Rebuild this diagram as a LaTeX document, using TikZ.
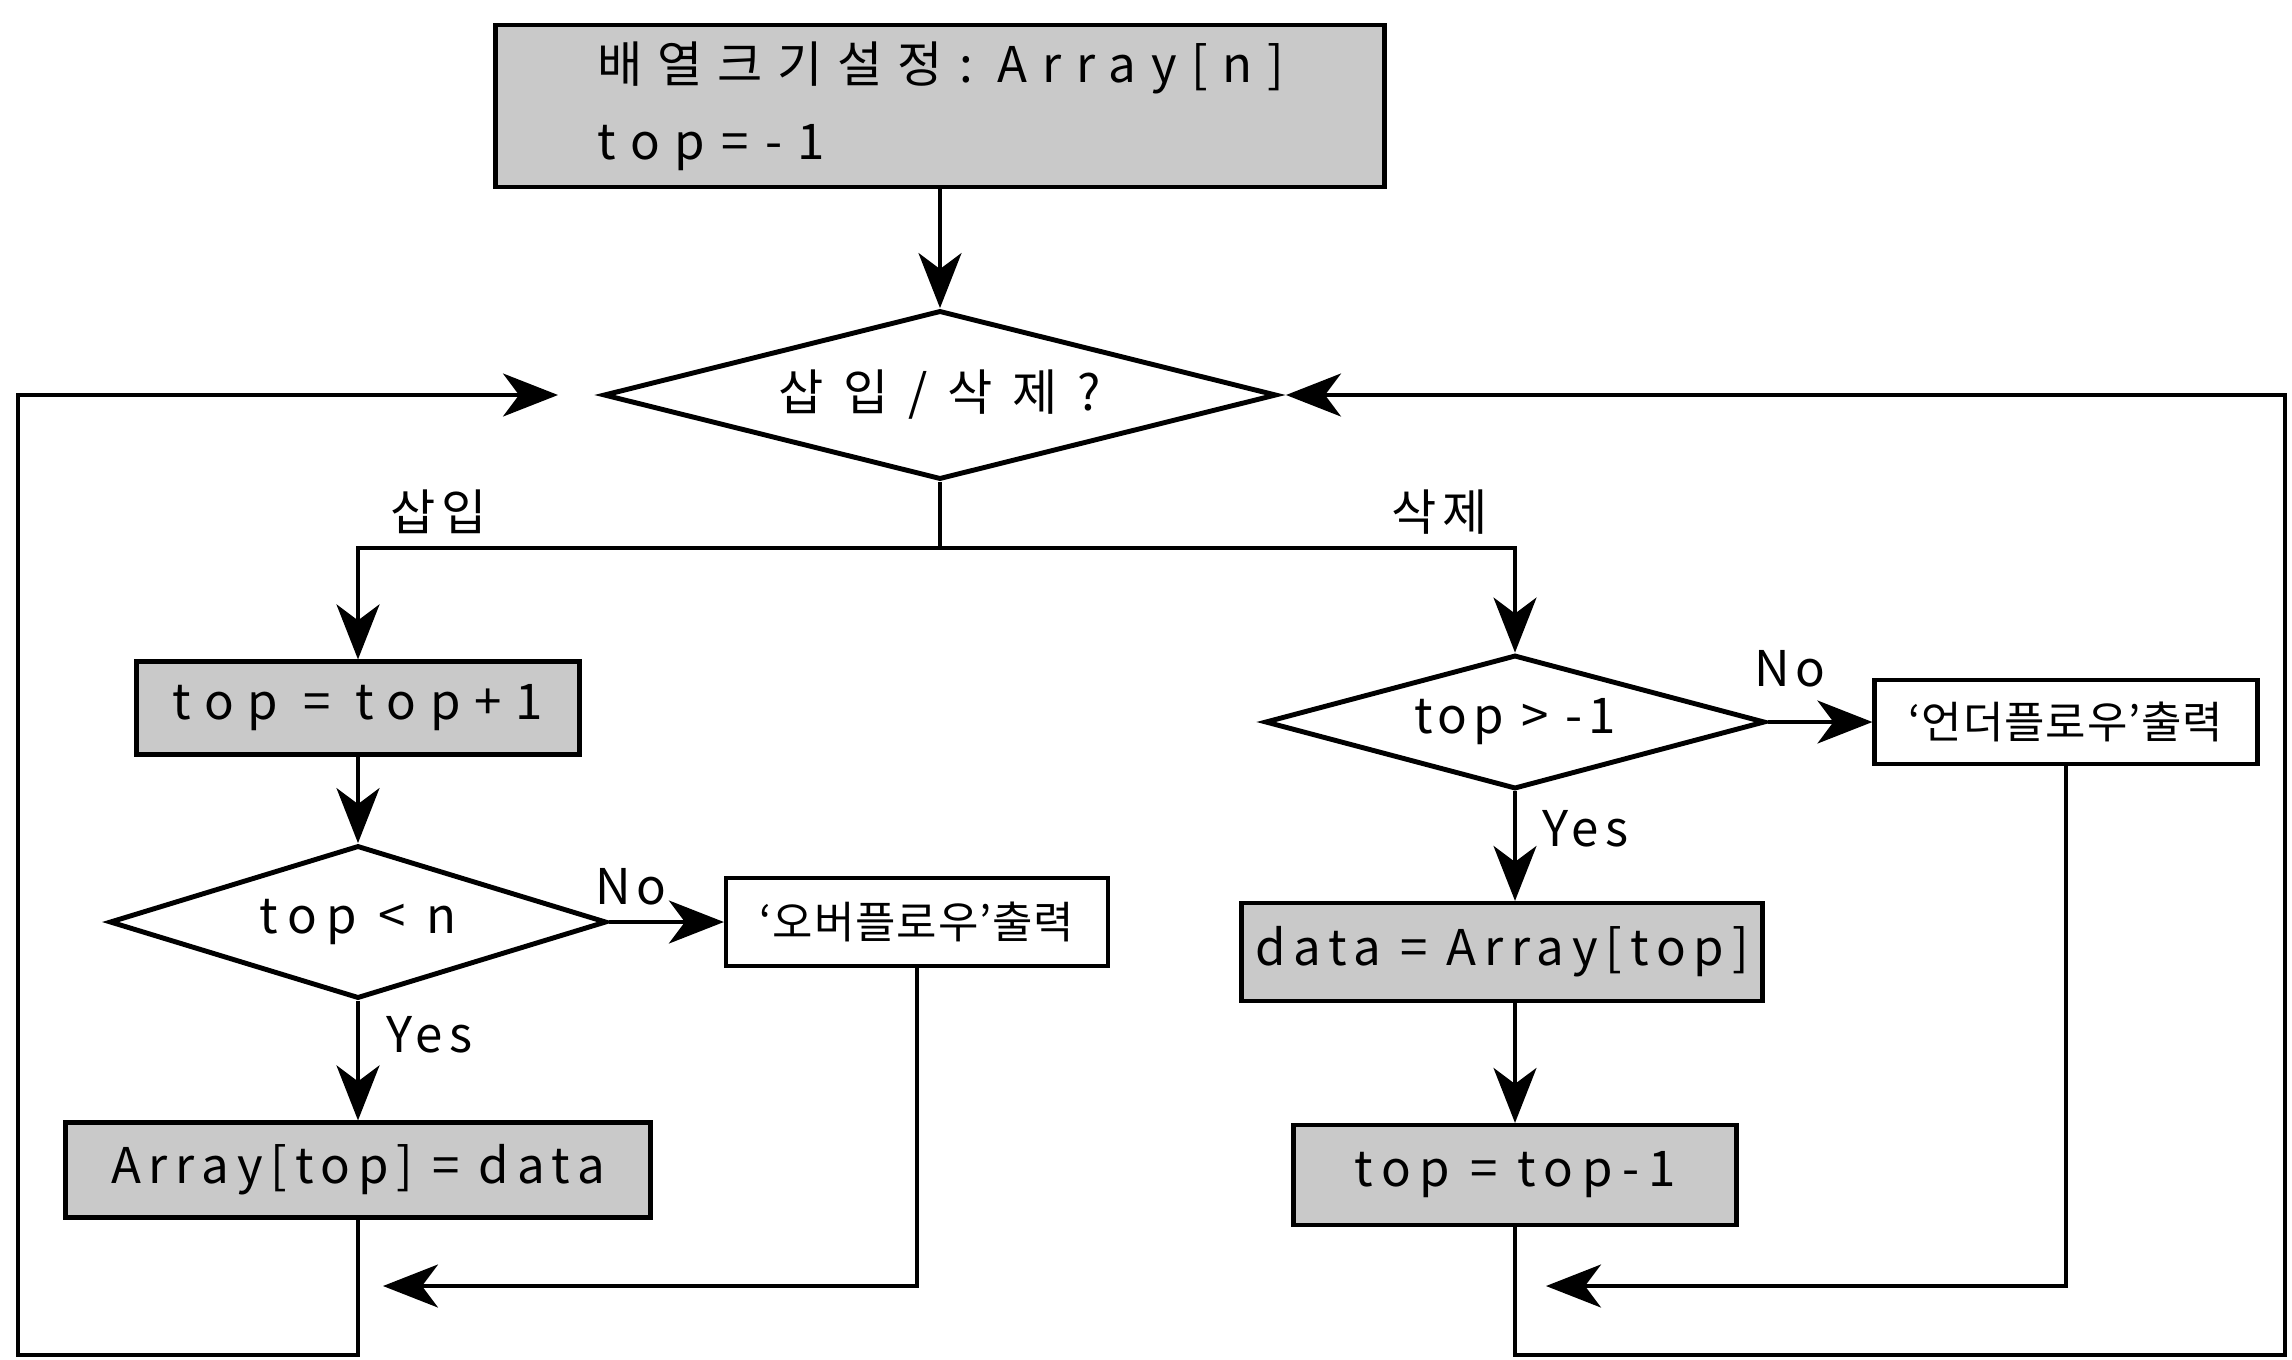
\documentclass[tikz,border=0pt]{standalone}
\usepackage{fontspec}
\setmainfont{Noto Sans CJK KR}[LetterSpace=12]
\usetikzlibrary{arrows.meta, positioning, shapes.geometric}

\begin{document}
\begin{tikzpicture}[
      font=\fontsize{14}{22}\selectfont,
      blk/.style={draw, line width=1.2pt, inner sep=0pt},
      proc/.style={blk, fill=gray!42},
      msg/.style={blk, fill=white, font=\fontsize{12.5}{15}\selectfont\addfontfeatures{LetterSpace=2}},
      cond/.style={diamond, draw, line width=1.4pt, aspect=3, inner sep=0pt},
      wide/.style={font=\fontsize{14}{22}\selectfont\addfontfeatures{LetterSpace=#1}},
      arr/.style={-{Stealth[length=5.5mm, width=4.3mm, inset=1.6mm]}, line width=1pt},
      lbl/.style={inner sep=1pt}]

    \useasboundingbox (0,0) rectangle (22.92,-13.59);

    % ============================================
    % start: array and top
    % ============================================
    \node[proc, wide=30, minimum width=8.89cm, minimum height=1.62cm, text width=6.85cm, align=left] (init) at (9.4,-1.06) {배열크기설정 : Array[n]\\top = -1};
    \node[cond, wide=40, minimum width=6.73cm, minimum height=1.69cm] (choice) at (9.4,-3.95) {삽입/삭제?};
    \draw[arr] (init) -- (choice);

    \coordinate (jl) at (3.58,-5.48);
    \coordinate (jr) at (15.15,-5.48);
    \draw[line width=1pt] (choice.south) -- (choice.south |- jl);
    \node[lbl] (lpush) at (4.39,-5.12) {삽입};
    \node[lbl] (lpop) at (14.4,-5.12) {삭제};

    % ============================================
    % push side
    % ============================================
    \node[proc, wide=28, minimum width=4.43cm, minimum height=0.93cm] (inc) at (3.58,-7.08) {top = top+1};
    \node[cond, wide=20, minimum width=4.97cm, minimum height=1.53cm] (full) at (3.58,-9.22) {top < n};
    \node[msg, minimum width=3.82cm, minimum height=0.88cm] (ovf) at (9.17,-9.22) {‘오버플로우’출력};
    \node[proc, wide=16, minimum width=5.85cm, minimum height=0.95cm] (push) at (3.58,-11.7) {Array[top] = data};

    \draw[arr] (choice.south |- jl) -- (jl) -- (inc);
    \draw[arr] (inc) -- (full);
    \draw[arr] (full) -- (ovf);
    \draw[arr] (full) -- (push);
    \node[lbl] (nopush) at (6.31,-8.87) {No};
    \node[lbl, anchor=west] (yespush) at (3.82,-10.35) {Yes};

    % ============================================
    % pop side
    % ============================================
    \node[cond, minimum width=5.0cm, minimum height=1.34cm] (empty) at (15.15,-7.22) {top > -1};
    \node[msg, minimum width=3.83cm, minimum height=0.84cm] (udf) at (20.66,-7.22) {‘언더플로우’출력};
    \node[proc, wide=16, minimum width=5.21cm, minimum height=0.98cm] (pop) at (15.02,-9.52) {data = Array[top]};
    \node[proc, wide=18, minimum width=4.43cm, minimum height=1.0cm] (dec) at (15.15,-11.75) {top = top-1};

    \draw[arr] (choice.south |- jr) -- (jr) -- (empty);
    \draw[arr] (empty) -- (udf);
    \draw[arr] (empty.south) -- (empty.south |- pop.north);
    \draw[arr] (dec.north |- pop.south) -- (dec);
    \node[lbl] (nopop) at (17.9,-6.69) {No};
    \node[lbl, anchor=west] (yespop) at (15.38,-8.29) {Yes};

    % back to the question
    \coordinate (ovret) at (3.83,-12.86);
    \coordinate (udret) at (15.46,-12.86);
    \draw[arr] (ovf.south) |- (ovret);
    \draw[arr] (udf.south) |- (udret);

    \coordinate (lb) at (0.18,-13.55);
    \coordinate (lt) at (0.18,-3.95);
    \coordinate (lin) at (5.58,-3.95);
    \coordinate (rb) at (22.85,-13.55);
    \coordinate (rt) at (22.85,-3.95);
    \coordinate (rin) at (12.86,-3.95);
    \draw[arr] (push.south) -- (push.south |- lb) -- (lb) -- (lt) -- (lin);
    \draw[arr] (dec.south) -- (dec.south |- rb) -- (rb) -- (rt) -- (rin);

\end{tikzpicture}
\end{document}
